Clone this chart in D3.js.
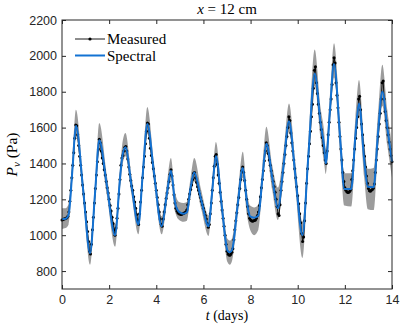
<!DOCTYPE html>
<html>
<head>
<meta charset="utf-8">
<script src="https://cdn.jsdelivr.net/npm/d3@7"></script>
<style>
  body { margin: 0; background: #fff; }
  .tick text { font-family: "Liberation Sans", Arial, sans-serif; font-size: 12.5px; fill: #262626; }
  .serif { font-family: "Liberation Serif", "DejaVu Serif", serif; fill: #000; }
</style>
</head>
<body>
<svg id="chart" width="403" height="332"></svg>
<script>
// DATA
// measured: hourly samples, day 0 .. 14
const measured = [
  1085,1088,1090,1092,1095,1098,1105,1130,1190,1250,1320,1390,1460,1540,1615,1610,1560,1500,1440,1390,1335,1280,1230,1180,
  1130,1075,1020,965,910,895,950,1030,1100,1180,1260,1335,1410,1480,1535,1515,1470,1430,1400,1365,1335,1300,1265,1235,
  1200,1165,1135,1100,1065,1030,1000,1040,1095,1150,1230,1310,1390,1430,1445,1470,1490,1495,1470,1425,1380,1340,1305,1275,
  1250,1215,1185,1150,1115,1085,1060,1120,1185,1250,1320,1380,1440,1510,1580,1625,1620,1540,1485,1445,1405,1370,1330,1290,
  1250,1210,1170,1130,1090,1060,1050,1090,1130,1170,1205,1235,1265,1300,1340,1365,1330,1280,1225,1180,1150,1135,1125,1120,
  1118,1115,1117,1120,1122,1125,1130,1140,1170,1200,1230,1255,1280,1310,1345,1350,1320,1295,1270,1250,1230,1210,1190,1170,
  1150,1130,1110,1090,1065,1045,1060,1120,1180,1250,1320,1385,1440,1450,1395,1335,1290,1240,1190,1140,1095,1050,1000,950,
  910,895,890,888,895,905,925,975,1030,1080,1125,1170,1210,1260,1310,1360,1380,1350,1305,1250,1200,1160,1120,1095,
  1085,1080,1078,1080,1082,1085,1095,1110,1130,1165,1215,1265,1310,1360,1415,1470,1515,1500,1455,1420,1390,1360,1330,1300,
  1270,1240,1200,1160,1120,1110,1170,1250,1300,1350,1400,1450,1500,1550,1600,1660,1640,1570,1515,1470,1420,1370,1320,1270,
  1220,1175,1120,1070,1010,965,990,1080,1180,1290,1370,1440,1510,1580,1660,1730,1820,1920,1940,1850,1790,1730,1680,1630,
  1590,1545,1500,1460,1420,1400,1470,1560,1630,1700,1760,1840,1950,1990,1960,1850,1780,1710,1630,1550,1480,1420,1350,1300,
  1265,1250,1242,1238,1240,1245,1255,1310,1360,1420,1480,1540,1600,1660,1760,1775,1700,1620,1560,1500,1440,1380,1330,1290,
  1260,1248,1245,1250,1255,1262,1285,1350,1420,1480,1550,1620,1680,1760,1850,1860,1760,1690,1640,1600,1560,1520,1480,1445,
  1410
];

// spectral fit and its band, at key times (days)
const specDays = [0, 0.15, 0.28, 0.45, 0.59, 0.90, 1.19, 1.40, 1.58, 1.90, 2.25, 2.45, 2.55, 2.69, 2.95, 3.24, 3.42, 3.62, 3.90,
  4.23, 4.45, 4.62, 4.80, 4.97, 5.15, 5.30, 5.45, 5.61, 5.90, 6.22, 6.36, 6.53, 6.78, 7.02, 7.12, 7.22, 7.45, 7.67, 7.85,
  7.98, 8.15, 8.33, 8.50, 8.67, 8.92, 9.16, 9.40, 9.63, 9.90, 10.20, 10.45, 10.72, 10.97, 11.12, 11.19, 11.36, 11.54, 11.80,
  11.98, 12.27, 12.45, 12.60, 12.82, 12.97, 13.22, 13.40, 13.59, 13.80, 14.00];
const spectral = [1090, 1092, 1115, 1380, 1610, 1250, 900, 1230, 1530, 1280, 1000, 1300, 1430, 1490, 1275, 1060, 1330, 1620, 1350,
  1050, 1230, 1360, 1180, 1130, 1120, 1128, 1260, 1350, 1200, 1050, 1225, 1440, 1160, 915, 905, 920, 1165, 1375, 1180,
  1105, 1098, 1110, 1315, 1510, 1320, 1150, 1390, 1635, 1335, 1000, 1440, 1900, 1625, 1495, 1400, 1680, 1955, 1540,
  1258, 1258, 1560, 1735, 1420, 1270, 1268, 1560, 1800, 1600, 1410];
const bandUpper = [1150, 1150, 1175, 1450, 1700, 1305, 960, 1290, 1625, 1335, 1060, 1360, 1500, 1570, 1330, 1115, 1390, 1715, 1405,
  1105, 1285, 1430, 1235, 1185, 1180, 1185, 1315, 1430, 1255, 1110, 1285, 1520, 1220, 980, 970, 985, 1225, 1465, 1240,
  1165, 1155, 1170, 1380, 1605, 1390, 1265, 1470, 1735, 1405, 1075, 1520, 2035, 1710, 1580, 1480, 1770, 2070, 1630,
  1345, 1345, 1660, 1865, 1520, 1370, 1375, 1670, 1950, 1700, 1500];
const bandLower = [1035, 1040, 1060, 1330, 1550, 1195, 835, 1175, 1470, 1225, 935, 1245, 1375, 1440, 1225, 1005, 1280, 1565, 1300,
  1005, 1180, 1310, 1130, 1085, 1075, 1080, 1210, 1300, 1150, 995, 1175, 1390, 1105, 850, 835, 860, 1110, 1320, 1110,
  1030, 1000, 1030, 1255, 1455, 1250, 1085, 1330, 1575, 1265, 873, 1370, 1830, 1540, 1400, 1340, 1610, 1880, 1450,
  1165, 1160, 1480, 1660, 1320, 1145, 1140, 1470, 1720, 1500, 1320];

const xTicks = [0, 2, 4, 6, 8, 10, 12, 14];
const yTicks = [800, 1000, 1200, 1400, 1600, 1800, 2000, 2200];

// SETUP
const svg = d3.select("#chart");
const box = { left: 62, right: 392, top: 20, bottom: 289 };
const ink = "#262626";
const blue = "#1372d3";

const x = d3.scaleLinear().domain([0, 14]).range([box.left, box.right]);
const y = d3.scaleLinear().domain([700, 2200]).range([box.bottom, box.top]);

const measuredPts = measured.map((v, i) => ({ t: i / 24, v }));
const specPts = specDays.map((t, i) => ({ t, v: spectral[i], hi: bandUpper[i], lo: bandLower[i] }));

// band
svg.append("path")
  .datum(specPts)
  .attr("fill", "#9c9c9c")
  .attr("d", d3.area().curve(d3.curveMonotoneX)
    .x(d => x(d.t)).y0(d => y(d.lo)).y1(d => y(d.hi)));

// measured
svg.append("path")
  .datum(measuredPts)
  .attr("fill", "none")
  .attr("stroke", "#000")
  .attr("stroke-width", 0.9)
  .attr("d", d3.line().x(d => x(d.t)).y(d => y(d.v)));

svg.append("g").selectAll("circle")
  .data(measuredPts)
  .join("circle")
  .attr("cx", d => x(d.t))
  .attr("cy", d => y(d.v))
  .attr("r", 1.5)
  .attr("fill", "#000");

// spectral
svg.append("path")
  .datum(specPts)
  .attr("fill", "none")
  .attr("stroke", blue)
  .attr("stroke-width", 2)
  .attr("d", d3.line().curve(d3.curveMonotoneX).x(d => x(d.t)).y(d => y(d.v)));

// axes, ticks pointing inward on all four sides
function styleAxis(g) {
  g.select(".domain").remove();
  g.selectAll(".tick line").attr("stroke", ink);
}

svg.append("g")
  .attr("transform", `translate(0,${box.bottom})`)
  .call(d3.axisBottom(x).tickValues(xTicks).tickFormat(d3.format("d"))
    .tickSizeInner(-4).tickSizeOuter(0).tickPadding(6))
  .call(styleAxis);

svg.append("g")
  .attr("transform", `translate(0,${box.top})`)
  .call(d3.axisTop(x).tickValues(xTicks).tickSizeInner(-4).tickSizeOuter(0).tickFormat(""))
  .call(styleAxis);

svg.append("g")
  .attr("transform", `translate(${box.left},0)`)
  .call(d3.axisLeft(y).tickValues(yTicks).tickFormat(d3.format("d"))
    .tickSizeInner(-4).tickSizeOuter(0).tickPadding(5))
  .call(styleAxis);

svg.append("g")
  .attr("transform", `translate(${box.right},0)`)
  .call(d3.axisRight(y).tickValues(yTicks).tickSizeInner(-4).tickSizeOuter(0).tickFormat(""))
  .call(styleAxis);

svg.append("rect")
  .attr("x", box.left).attr("y", box.top)
  .attr("width", box.right - box.left).attr("height", box.bottom - box.top)
  .attr("fill", "none").attr("stroke", ink).attr("stroke-width", 1);

// title
const title = svg.append("text")
  .attr("class", "serif")
  .attr("x", (box.left + box.right) / 2)
  .attr("y", 14)
  .attr("text-anchor", "middle")
  .style("font-size", "15px");
title.append("tspan").style("font-style", "italic").text("x");
title.append("tspan").text(" = 12 cm");

// x label
const xl = svg.append("text")
  .attr("class", "serif")
  .attr("x", (box.left + box.right) / 2)
  .attr("y", 320)
  .attr("text-anchor", "middle")
  .style("font-size", "14px");
xl.append("tspan").style("font-style", "italic").text("t");
xl.append("tspan").text(" (days)");

// y label
const yl = svg.append("text")
  .attr("class", "serif")
  .attr("transform", `translate(17,${(box.top + box.bottom) / 2}) rotate(-90)`)
  .attr("text-anchor", "middle")
  .style("font-size", "15.5px");
yl.append("tspan").style("font-style", "italic").text("P");
yl.append("tspan").style("font-style", "italic").style("font-size", "11px").attr("dy", 3).text("v");
yl.append("tspan").attr("dy", -3).text(" (Pa)");

// legend
const leg = svg.append("g");
leg.append("line")
  .attr("x1", 75).attr("x2", 105).attr("y1", 39).attr("y2", 39)
  .attr("stroke", "#000").attr("stroke-width", 0.9);
leg.append("circle").attr("cx", 90).attr("cy", 39).attr("r", 1.6).attr("fill", "#000");
leg.append("text").attr("class", "serif")
  .attr("x", 107).attr("y", 44).style("font-size", "15px").text("Measured");
leg.append("line")
  .attr("x1", 75).attr("x2", 105).attr("y1", 55.5).attr("y2", 55.5)
  .attr("stroke", blue).attr("stroke-width", 2);
leg.append("text").attr("class", "serif")
  .attr("x", 107).attr("y", 60.5).style("font-size", "15px").text("Spectral");
</script>
</body>
</html>
